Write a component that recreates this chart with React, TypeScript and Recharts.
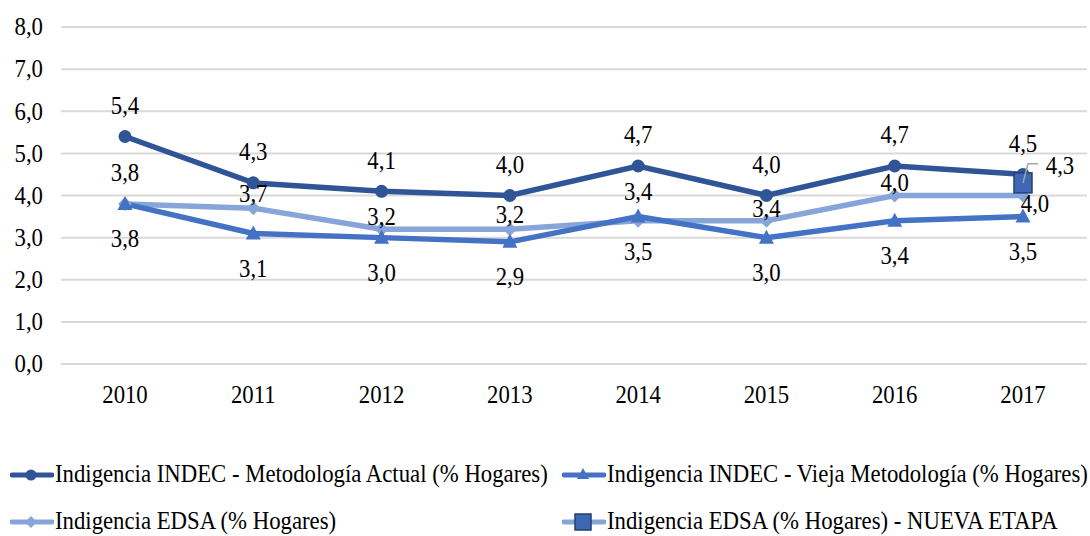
import React from "react";
import { LineChart, Line, XAxis, YAxis, CartesianGrid, Legend, LabelList } from "recharts";

const years = ["2010", "2011", "2012", "2013", "2014", "2015", "2016", "2017"];
const actual = [5.4, 4.3, 4.1, 4.0, 4.7, 4.0, 4.7, 4.5];
const vieja = [3.8, 3.1, 3.0, 2.9, 3.5, 3.0, 3.4, 3.5];
const edsa = [3.8, 3.7, 3.2, 3.2, 3.4, 3.4, 4.0, 4.0];
const nueva = [null, null, null, null, null, null, null, 4.3];
const yTicks = [0, 1, 2, 3, 4, 5, 6, 7, 8];

const names = {
  actual: "Indigencia INDEC - Metodología Actual (% Hogares)",
  vieja: "Indigencia INDEC - Vieja Metodología (% Hogares)",
  edsa: "Indigencia EDSA (% Hogares)",
  nueva: "Indigencia EDSA (% Hogares) - NUEVA ETAPA",
};

const DARK = "#2F5597";
const MID = "#4472C4";
const LIGHT = "#88A5DA";
const FONT = "'Liberation Serif', 'DejaVu Serif', serif";
const FS = 25;
const SX = 0.91;

const data = years.map((year, i) => ({
  year,
  actual: actual[i],
  vieja: vieja[i],
  edsa: edsa[i],
  nueva: nueva[i],
}));

const fmt = (v: number) => v.toFixed(1).replace(".", ",");

const SText = ({ x, y, anchor = "middle", children }: any) => (
  <text
    transform={`translate(${x},${y}) scale(${SX},1)`}
    textAnchor={anchor}
    dominantBaseline="central"
    style={{ fontFamily: FONT, fontSize: FS }}
    fill="#000"
  >
    {children}
  </text>
);

// label offsets (pixels) relative to the point, per category
const edsaDy = [-31, -15, -13, -15, -29, -12, -13, 8];

const labelAbove = (p: any) =>
  p.value == null ? null : <SText x={p.x} y={p.y - 31}>{fmt(p.value)}</SText>;
const labelBelow = (p: any) =>
  p.value == null ? null : <SText x={p.x} y={p.y + 35}>{fmt(p.value)}</SText>;
const labelEdsa = (p: any) => {
  if (p.value == null) return null;
  const dx = p.index === years.length - 1 ? 12 : 0;
  return <SText x={p.x + dx} y={p.y + edsaDy[p.index]}>{fmt(p.value)}</SText>;
};
const labelNueva = (p: any) => {
  if (p.value == null) return null;
  const { x, y } = p;
  return (
    <g>
      <polyline
        points={`${x},${y} ${x + 5},${y - 19} ${x + 15},${y - 19}`}
        fill="none"
        stroke="#A6A6A6"
        strokeWidth={1.5}
      />
      <SText x={x + 37} y={y - 17}>{fmt(p.value)}</SText>
    </g>
  );
};

const XTick = (p: any) => <SText x={p.x} y={395}>{p.payload.value}</SText>;
const YTick = (p: any) => (
  <SText x={43} y={p.y} anchor="end">
    {fmt(p.payload.value)}
  </SText>
);

const Circle = (p: any) =>
  p.value == null ? null : <circle key={p.index} cx={p.cx} cy={p.cy} r={6.5} fill={DARK} />;
const Tri = (p: any) =>
  p.value == null ? null : (
    <polygon
      key={p.index}
      points={`${p.cx},${p.cy - 8} ${p.cx + 7.5},${p.cy + 6} ${p.cx - 7.5},${p.cy + 6}`}
      fill={MID}
    />
  );
const Diamond = (p: any) =>
  p.value == null ? null : (
    <polygon
      key={p.index}
      points={`${p.cx},${p.cy - 7} ${p.cx + 7},${p.cy} ${p.cx},${p.cy + 7} ${p.cx - 7},${p.cy}`}
      fill={LIGHT}
    />
  );
const Square = (p: any) =>
  p.value == null ? null : (
    <rect
      key={p.index}
      x={p.cx - 9}
      y={p.cy - 10}
      width={18}
      height={20}
      fill="#3F67B4"
      stroke="#23406F"
      strokeWidth={1.5}
    />
  );

const LegendIcon = ({ color, marker }: { color: string; marker: string }) => (
  <svg width={44} height={22} style={{ position: "absolute", left: 0, top: -11 }}>
    <line x1={2} y1={11} x2={42} y2={11} stroke={color} strokeWidth={5} strokeLinecap="round" />
    {marker === "circle" && <circle cx={21} cy={11} r={5.5} fill={DARK} />}
    {marker === "tri" && <polygon points="21,4 27,15 15,15" fill={MID} />}
    {marker === "diamond" && <polygon points="21,5 27,11 21,17 15,11" fill={LIGHT} />}
    {marker === "square" && (
      <rect x={13} y={3} width={16} height={16} fill="#3F67B4" stroke="#23406F" strokeWidth={1.5} />
    )}
  </svg>
);

const legendItems = [
  { name: names.actual, color: DARK, marker: "circle", left: 10, top: 61 },
  { name: names.vieja, color: MID, marker: "tri", left: 562, top: 61 },
  { name: names.edsa, color: LIGHT, marker: "diamond", left: 10, top: 108 },
  { name: names.nueva, color: LIGHT, marker: "square", left: 562, top: 108 },
];

const renderLegend = () => (
  <div style={{ position: "relative", width: 1090, height: 122 }}>
    {legendItems.map((it) => (
      <div key={it.name} style={{ position: "absolute", left: it.left, top: it.top }}>
        <LegendIcon color={it.color} marker={it.marker} />
        <span
          style={{
            position: "absolute",
            left: 45,
            top: -16,
            whiteSpace: "nowrap",
            fontFamily: FONT,
            fontSize: FS,
            lineHeight: "30px",
            color: "#000",
            transform: `scaleX(${SX})`,
            transformOrigin: "0 50%",
          }}
        >
          {it.name}
        </span>
      </div>
    ))}
  </div>
);

export default function App() {
  return (
    <div style={{ position: "absolute", left: 0, top: 0, background: "#fff", fontFamily: FONT }}>
      <LineChart width={1090} height={536} data={data} margin={{ top: 27, right: 3, left: 0, bottom: 0 }}>
        <CartesianGrid horizontal vertical={false} stroke="#D9D9D9" strokeWidth={2} />
        <XAxis
          dataKey="year"
          height={50}
          padding={{ left: 64, right: 64 }}
          axisLine={{ stroke: "#D9D9D9", strokeWidth: 2 }}
          tickLine={false}
          tick={XTick}
        />
        <YAxis
          width={61}
          domain={[0, 8]}
          ticks={yTicks}
          axisLine={false}
          tickLine={false}
          tick={YTick}
        />
        <Legend verticalAlign="bottom" height={122} content={renderLegend} />
        <Line dataKey="edsa" name={names.edsa} stroke={LIGHT} strokeWidth={5.5} dot={Diamond} isAnimationActive={false}>
          <LabelList dataKey="edsa" content={labelEdsa} />
        </Line>
        <Line dataKey="vieja" name={names.vieja} stroke={MID} strokeWidth={5.5} dot={Tri} isAnimationActive={false}>
          <LabelList dataKey="vieja" content={labelBelow} />
        </Line>
        <Line dataKey="actual" name={names.actual} stroke={DARK} strokeWidth={5.5} dot={Circle} isAnimationActive={false}>
          <LabelList dataKey="actual" content={labelAbove} />
        </Line>
        <Line dataKey="nueva" name={names.nueva} stroke={LIGHT} strokeWidth={5.5} dot={Square} isAnimationActive={false}>
          <LabelList dataKey="nueva" content={labelNueva} />
        </Line>
      </LineChart>
    </div>
  );
}
